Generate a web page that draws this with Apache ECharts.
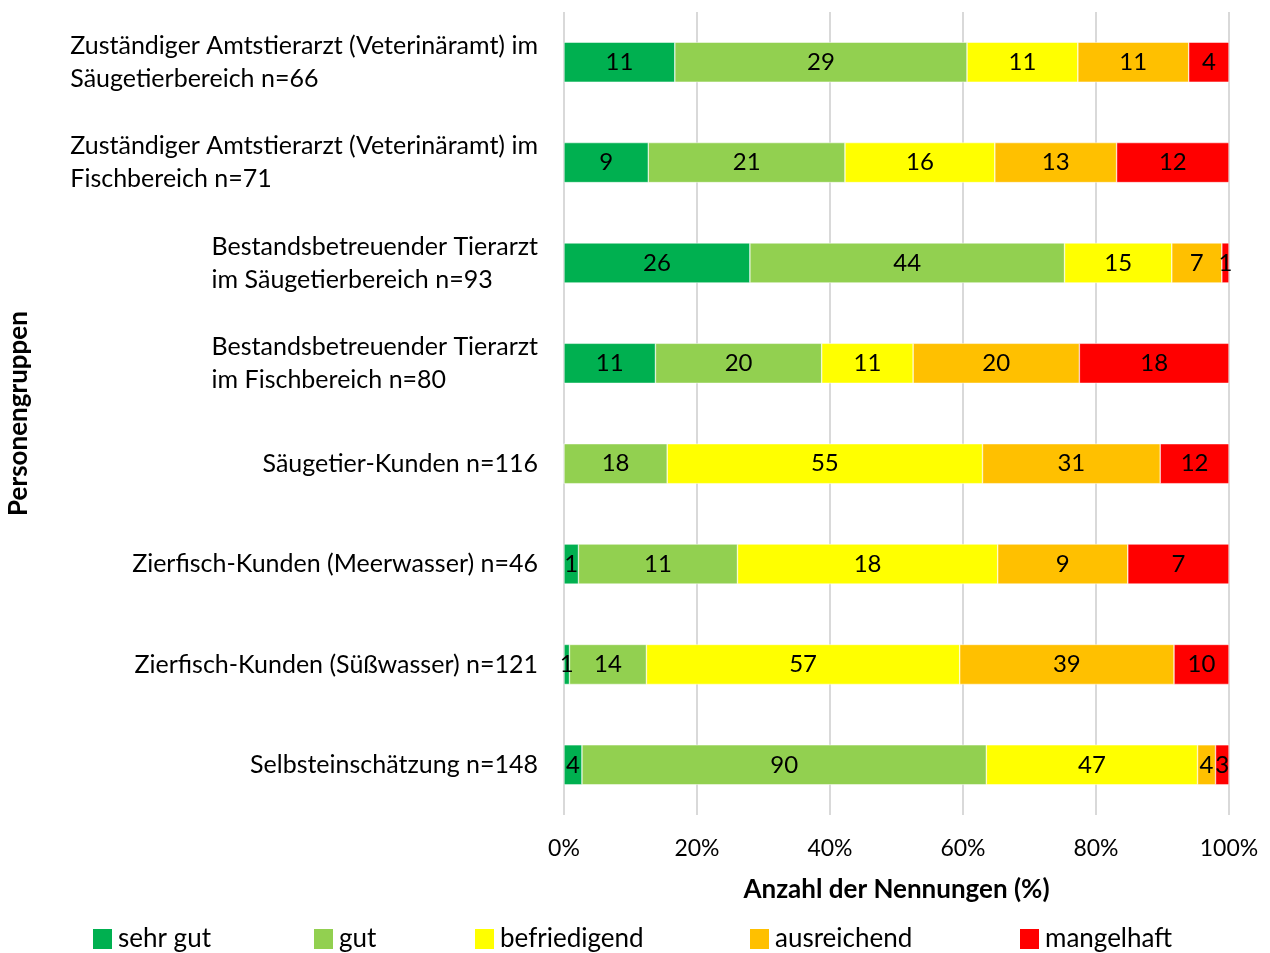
<!DOCTYPE html>
<html>
<head>
<meta charset="utf-8">
<script src="https://cdn.jsdelivr.net/npm/echarts@6/dist/echarts.min.js"></script>
<style>
  html, body { margin: 0; padding: 0; background: #fff; }
  #chart { width: 1270px; height: 953px; }
</style>
</head>
<body>
<div id="chart"></div>
<script>
// groups, top to bottom
const groups = [
  ['Zuständiger Amtstierarzt (Veterinäramt) im', 'Säugetierbereich n=66'],
  ['Zuständiger Amtstierarzt (Veterinäramt) im', 'Fischbereich n=71'],
  ['Bestandsbetreuender Tierarzt', 'im Säugetierbereich n=93'],
  ['Bestandsbetreuender Tierarzt', 'im Fischbereich n=80'],
  ['Säugetier-Kunden n=116'],
  ['Zierfisch-Kunden (Meerwasser) n=46'],
  ['Zierfisch-Kunden (Süßwasser) n=121'],
  ['Selbsteinschätzung n=148']
]
const grades = ['sehr gut', 'gut', 'befriedigend', 'ausreichend', 'mangelhaft']
const colors = ['#00B050', '#92D050', '#FFFF00', '#FFC000', '#FF0000']

// counts per grade (same order as groups)
const sehrGut = [11, 9, 26, 11, 0, 1, 1, 4]
const gut = [29, 21, 44, 20, 18, 11, 14, 90]
const befriedigend = [11, 16, 15, 11, 55, 18, 57, 47]
const ausreichend = [11, 13, 7, 20, 31, 9, 39, 4]
const mangelhaft = [4, 12, 1, 18, 12, 7, 10, 3]
const counts = [sehrGut, gut, befriedigend, ausreichend, mangelhaft]

const xTicks = [0, 20, 40, 60, 80, 100]
const legendLeft = [91, 312, 473, 748, 1018]

const font = 'Lato, "Open Sans", sans-serif'

const totals = groups.map((g, i) => counts.reduce((s, c) => s + c[i], 0))
const categories = groups.map((g) => g.map((l) => '{a|' + l + '}').join('\n'))

const chartDom = echarts.init(document.getElementById('chart'))

const option = {
  animation: false,
  textStyle: { fontFamily: font, color: '#000' },
  grid: { left: 564, right: 41, top: 12, bottom: 138, outerBoundsMode: 'none' },
  xAxis: {
    type: 'value',
    min: xTicks[0],
    max: xTicks[xTicks.length - 1],
    interval: 20,
    axisLine: { show: false },
    axisTick: { show: false },
    splitLine: { lineStyle: { color: '#d9d9d9', width: 2 } },
    axisLabel: { formatter: '{value}%', fontSize: 23, color: '#000', margin: 22, fontFamily: font },
    name: 'Anzahl der Nennungen (%)',
    nameLocation: 'middle',
    nameGap: 62,
    nameTextStyle: { fontSize: 26, fontWeight: 'bold', color: '#000', fontFamily: font }
  },
  yAxis: {
    type: 'category',
    inverse: true,
    data: categories,
    axisLine: { show: false },
    axisTick: { show: false },
    axisLabel: {
      margin: 26,
      align: 'right',
      fontSize: 25,
      color: '#000',
      fontFamily: font,
      rich: { a: { align: 'left', fontSize: 25, lineHeight: 33, fontFamily: font, color: '#000' } }
    },
    name: 'Personengruppen',
    nameLocation: 'middle',
    nameGap: 532,
    nameTextStyle: { fontSize: 26, fontWeight: 'bold', color: '#000', fontFamily: font }
  },
  legend: grades.map((g, i) => ({
    data: [g],
    left: legendLeft[i],
    top: 926,
    padding: 0,
    itemWidth: 21,
    itemHeight: 22,
    itemGap: 0,
    icon: 'rect',
    textStyle: { fontSize: 26, color: '#000', fontFamily: font }
  })),
  series: grades.map((g, si) => ({
    name: g,
    type: 'bar',
    stack: 'total',
    barWidth: 40,
    itemStyle: { color: colors[si], borderColor: '#fff', borderWidth: 0.5 },
    label: {
      show: true,
      position: 'inside',
      fontSize: 24,
      color: '#000',
      fontFamily: font,
      formatter: (p) => (counts[si][p.dataIndex] ? String(counts[si][p.dataIndex]) : '')
    },
    data: counts[si].map((v, i) => (v / totals[i]) * 100)
  }))
}

option && chartDom.setOption(option)
</script>
</body>
</html>
